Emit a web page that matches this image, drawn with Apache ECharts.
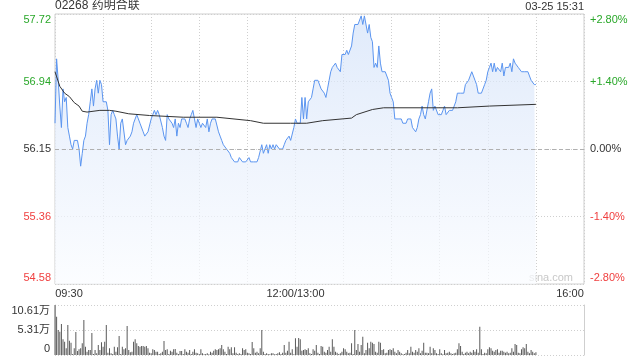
<!DOCTYPE html>
<html><head><meta charset="utf-8">
<script src="https://cdn.jsdelivr.net/npm/echarts@6/dist/echarts.min.js"></script>
<style>html,body{margin:0;padding:0;background:#fff}#c{width:640px;height:360px}</style>
</head><body><div id="c"></div>
<script>
const stockTitle = '02268 药明合联';
const stamp = '03-25 15:31';
const prevClose = 56.15;
const timeTickMinutes = [0, 150, 330];
const timeTickLabels = ['09:30', '12:00/13:00', '16:00'];
const priceTickLabels = ['57.72', '56.94', '56.15', '55.36', '54.58'];
const pctTickLabels = ['+2.80%', '+1.40%', '0.00%', '-1.40%', '-2.80%'];
const volTickLabels = ['10.61万', '5.31万', '0'];
const volAxisMax = 106100;

// one price per minute from 09:30 (minute 0); 12:00 and 13:00 share minute 150
const prices = [
56.45,57.20,56.95,56.65,56.40,56.85,56.70,56.75,56.40,56.30,
56.20,56.15,56.25,56.25,56.25,56.15,55.95,56.10,56.25,56.30,
56.45,56.55,56.70,56.85,56.65,56.85,56.95,56.80,56.95,56.90,
56.70,56.70,56.70,56.60,56.20,56.55,56.60,56.55,56.50,56.30,
56.15,56.45,56.50,56.50,56.20,56.25,56.25,56.30,56.35,56.45,
56.50,56.55,56.50,56.45,56.45,56.35,56.30,56.30,56.35,56.35,
56.50,56.55,56.60,56.55,56.60,56.55,56.55,56.40,56.30,56.25,
56.55,56.50,56.50,56.45,56.40,56.50,56.30,56.45,56.40,56.50,
56.50,56.50,56.45,56.40,56.50,56.55,56.60,56.50,56.40,56.50,
56.45,56.40,56.45,56.45,56.40,56.50,56.35,56.45,56.50,56.50,
56.50,56.50,56.35,56.30,56.25,56.20,56.20,56.15,56.15,56.10,
56.05,56.05,56.00,56.00,56.00,56.05,56.05,56.00,56.00,56.00,
56.00,56.05,56.00,56.00,56.00,56.00,56.00,56.05,56.05,56.20,
56.10,56.15,56.20,56.10,56.20,56.15,56.20,56.15,56.20,56.20,
56.15,56.15,56.15,56.20,56.25,56.25,56.30,56.25,56.25,56.40,
56.50,56.45,56.45,56.45,56.75,56.50,56.75,56.50,56.70,56.70,
56.75,56.85,56.95,56.95,56.95,56.95,56.85,56.85,56.80,56.75,
56.85,56.95,57.05,57.10,57.10,57.15,57.10,57.10,57.05,57.25,
57.25,57.25,57.30,57.25,57.25,57.35,57.50,57.60,57.60,57.60,
57.60,57.70,57.60,57.70,57.70,57.50,57.60,57.45,57.40,57.10,
57.15,57.10,57.35,57.15,57.05,57.05,57.05,57.05,56.95,56.80,
56.75,56.70,56.50,56.50,56.50,56.50,56.50,56.45,56.45,56.45,
56.50,56.50,56.50,56.40,56.40,56.35,56.40,56.50,56.55,56.65,
56.55,56.50,56.50,56.70,56.80,56.85,56.60,56.65,56.65,56.55,
56.55,56.55,56.60,56.65,56.55,56.55,56.60,56.60,56.60,56.60,
56.70,56.80,56.80,56.80,56.80,56.80,56.90,56.90,56.95,57.00,
57.05,57.00,56.95,56.90,56.80,56.80,56.80,56.80,56.90,56.95,
57.05,57.10,57.15,57.05,57.15,57.05,57.10,57.10,57.05,57.15,
57.00,57.10,57.10,57.10,57.15,57.05,57.20,57.15,57.15,57.10,
57.10,57.05,57.05,57.05,57.05,57.05,57.00,56.95,56.95,56.90,
56.90
];

// average price line, read at these minutes
const avgMinutes = [0,3,6,9,12,15,17,20,28,34,38,46,59,80,101,122,130,147,157,167,185,188,198,205,209,251,271,300];
const avgPrices  = [57.05,56.88,56.80,56.76,56.69,56.65,56.59,56.58,56.60,56.60,56.59,56.56,56.54,56.52,56.52,56.48,56.45,56.45,56.45,56.48,56.51,56.55,56.61,56.63,56.63,56.63,56.65,56.67];

// volume per minute (shares)
const volumes = [
106100,81300,53000,49500,65800,33200,28300,14100,63600,30400,
26200,2100,14100,48800,8500,12000,14100,24700,74200,17700,
7100,10600,10600,46700,2100,10600,3500,21200,10600,26900,
17700,28300,63600,4900,14100,3500,2100,17700,7100,16300,
40300,2100,17700,12000,14100,61500,10600,5700,7100,28300,
33200,24700,19100,17700,19100,19100,17700,19100,14100,4900,
3500,12000,10600,7100,7100,2100,3500,7100,29700,10600,
12000,2100,9200,7100,12000,12700,4900,2100,8500,8500,
2100,12000,7100,4900,10600,2100,7100,12000,4900,3500,
2100,12000,3500,1400,2100,3500,1400,7100,4900,9200,
12000,10600,12000,14100,21200,12000,7100,2100,17700,12000,
16300,3500,16300,4900,2100,3500,2100,14100,10600,12000,
4900,3500,2100,27600,14100,4900,7100,3500,14100,53000,
7100,2100,3500,2100,1400,3500,3500,1400,2100,3500,
5700,2100,4900,21200,4900,9200,28300,4900,12000,1400,
35400,17700,36100,33200,9200,10600,12000,10600,14100,3500,
2100,12000,9200,21200,4900,2100,19100,17700,7100,4900,
10600,17700,7100,33200,17700,7100,4900,2100,3500,7100,
14100,12000,7100,3500,4900,24700,2100,53000,10600,23300,
7100,21200,38900,3500,10600,26200,14100,28300,26200,23300,
7100,4900,28300,26200,10600,12000,3500,4900,10600,12000,
10600,14100,7100,3500,10600,7100,3500,1400,2100,4900,
10600,3500,17700,7100,4900,10600,7100,14100,3500,9200,
26200,4900,4900,3500,17700,3500,14100,10600,3500,2100,
12000,3500,1400,10600,3500,4900,7100,3500,2100,3500,
4900,12000,24700,19100,7100,2100,4900,7100,3500,7100,
4900,10600,7100,12000,4900,60100,12000,2100,4900,3500,
12000,16300,14100,9200,7100,10600,12000,4900,9200,9200,
7100,4900,7100,3500,4900,14100,7100,23300,21200,4900,
3500,12000,16300,14100,23300,7100,3500,10600,7100,3500,
5700
];

const GREEN = '#2aa82a', RED = '#f04040', INK = '#333';
const FONT = '"Liberation Sans", Arial, "Noto Sans CJK SC", sans-serif';
const pct = p => (p / prevClose - 1) * 100;

const chart = echarts.init(document.getElementById('c'), null, {renderer: 'canvas'});

const yRich = {
  gT: {color: GREEN, padding: [12, 0, 0, 0]}, g: {color: GREEN},
  k: {color: INK}, r: {color: RED}, rB: {color: RED, padding: [0, 0, 12, 0]}
};
function styleKey(i) { return (i < 2 ? 'g' : i === 2 ? 'k' : 'r') + (i === 0 ? 'T' : i === 4 ? 'B' : ''); }

chart.setOption({
  animation: false,
  backgroundColor: '#fff',
  textStyle: {fontFamily: FONT},
  title: [
    {text: stockTitle, left: 55, top: 0, padding: 0,
     textStyle: {fontSize: 12, fontWeight: 'normal', color: INK, fontFamily: FONT}},
    {text: stamp, right: 56, top: 1, padding: 0,
     textStyle: {fontSize: 11, fontWeight: 'normal', color: INK, fontFamily: FONT}}
  ],
  graphic: [{type: 'text', right: 67, top: 272, silent: true,
    style: {text: 'sina.com', fill: '#c8c8c8', font: '11px "Liberation Sans", Arial'}}],
  grid: [
    {left: 55, right: 56, top: 14, height: 270, show: true, borderColor: '#cfcfcf', borderWidth: 1, backgroundColor: 'transparent'},
    {left: 55, right: 56, top: 305, height: 50}
  ],
  xAxis: [
    {type: 'value', gridIndex: 0, min: 0, max: 330, interval: 30,
     axisLine: {show: false}, axisTick: {show: false},
     splitLine: {show: true, lineStyle: {color: '#cfcfcf', type: [1, 2]}},
     axisLabel: {margin: 4, fontSize: 11, color: INK, fontFamily: FONT,
       formatter: v => { const i = timeTickMinutes.indexOf(v); return i < 0 ? '' : '{' + ['a', 'b', 'c'][i] + '|' + timeTickLabels[i] + '}'; },
       rich: {a: {padding: [0, 0, 0, 28]}, b: {}, c: {padding: [0, 28, 0, 0]}}}},
    {type: 'value', gridIndex: 1, min: 0, max: 330, interval: 30,
     axisLine: {show: false}, axisTick: {show: false}, axisLabel: {show: false}, splitLine: {show: false}}
  ],
  yAxis: [
    {type: 'value', gridIndex: 0, min: -2.8, max: 2.8, interval: 1.4,
     axisLine: {show: false}, axisTick: {show: false},
     splitLine: {show: true, lineStyle: {color: '#cfcfcf', type: [1, 2]}},
     axisLabel: {margin: 4, fontSize: 11, fontFamily: FONT,
       formatter: v => { const i = Math.round((2.8 - v) / 1.4); return '{' + styleKey(i) + '|' + priceTickLabels[i] + '}'; },
       rich: yRich}},
    {type: 'value', gridIndex: 0, position: 'right', min: -2.8, max: 2.8, interval: 1.4,
     axisLine: {show: false}, axisTick: {show: false}, splitLine: {show: false},
     axisLabel: {margin: 6, fontSize: 11, fontFamily: FONT,
       formatter: v => { const i = Math.round((2.8 - v) / 1.4); return '{' + styleKey(i) + '|' + pctTickLabels[i] + '}'; },
       rich: yRich}},
    {type: 'value', gridIndex: 1, min: 0, max: volAxisMax, interval: volAxisMax / 2,
     axisLine: {show: true, lineStyle: {color: '#cfcfcf'}}, axisTick: {show: false},
     splitLine: {show: true, lineStyle: {color: '#cfcfcf', type: [1, 2]}},
     axisLabel: {margin: 5, fontSize: 11, color: INK, fontFamily: FONT,
       formatter: v => { const i = Math.round((volAxisMax - v) / (volAxisMax / 2)); return '{' + ['t', 'm', 'b'][i] + '|' + volTickLabels[i] + '}'; },
       rich: {t: {padding: [12, 0, 0, 0]}, m: {}, b: {padding: [0, 0, 12, 0]}}}},
    {type: 'value', gridIndex: 1, position: 'right', min: 0, max: volAxisMax,
     axisLine: {show: true, lineStyle: {color: '#cfcfcf'}}, axisTick: {show: false},
     axisLabel: {show: false}, splitLine: {show: false}}
  ],
  series: [
    {type: 'line', xAxisIndex: 0, yAxisIndex: 0, showSymbol: false, symbol: 'none',
     data: prices.map((p, i) => [i, pct(p)]),
     lineStyle: {color: '#5b95f0', width: 1}, itemStyle: {color: '#5b95f0'},
     areaStyle: {origin: 'start', color: new echarts.graphic.LinearGradient(0, 0, 0, 1, [
       {offset: 0, color: '#d3e2f9'}, {offset: 0.5, color: '#e7effc'}, {offset: 1, color: '#fafcff'}])},
     markLine: {silent: true, symbol: 'none', label: {show: false},
       lineStyle: {color: '#b0b0b0', type: [4, 3], width: 1}, data: [{yAxis: 0}]},
     z: 3},
    {type: 'line', xAxisIndex: 0, yAxisIndex: 0, showSymbol: false, symbol: 'none',
     data: avgMinutes.map((m, i) => [m, pct(avgPrices[i])]),
     lineStyle: {color: '#333', width: 1}, itemStyle: {color: '#333'}, z: 4},
    {type: 'bar', xAxisIndex: 1, yAxisIndex: 2, barWidth: 1,
     data: volumes.map((v, i) => [i, v]), itemStyle: {color: '#5a5a5a'}}
  ]
});
</script></body></html>
